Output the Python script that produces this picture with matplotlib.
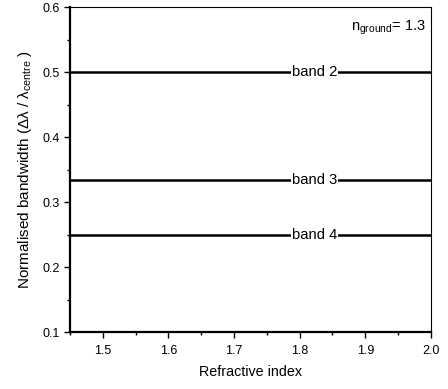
import matplotlib
matplotlib.use("Agg")
import matplotlib.pyplot as plt
from matplotlib.ticker import MultipleLocator

plt.rcParams['font.family'] = ['Liberation Sans', 'DejaVu Sans']
plt.rcParams['mathtext.fontset'] = 'custom'
plt.rcParams['mathtext.rm'] = 'Liberation Sans'
plt.rcParams['mathtext.it'] = 'Liberation Sans'
plt.rcParams['mathtext.sf'] = 'Liberation Sans'

x_range = [1.45, 2.0]
bands = ["band 2", "band 3", "band 4"]
band_values = [0.5, 1/3, 0.25]
label_x = 1.823
n_ground_text = r"n$_{\mathrm{ground}}$= 1.3"

fig = plt.figure(figsize=(4.48, 3.89), dpi=100)
ax = fig.add_axes([0.156, 0.1465, 0.806, 0.8355])

for name, val in zip(bands, band_values):
    ax.plot(x_range, [val, val], color='black', lw=1.8, solid_capstyle='butt')
    ax.text(label_x, val, name, ha='center', va='center', fontsize=10.6,
            bbox=dict(facecolor='white', edgecolor='none', pad=0.6))

ax.text(1.992, 0.568, n_ground_text, ha='right', va='center', fontsize=10.5)

ax.set_xlim(1.45, 2.0)
ax.set_ylim(0.1, 0.6)
ax.xaxis.set_major_locator(MultipleLocator(0.1))
ax.xaxis.set_minor_locator(MultipleLocator(0.05))
ax.yaxis.set_major_locator(MultipleLocator(0.1))
ax.yaxis.set_minor_locator(MultipleLocator(0.05))
ax.tick_params(which='major', direction='out', length=4, width=1, labelsize=9, pad=3)
ax.tick_params(axis='x', which='major', pad=5)
ax.tick_params(which='minor', direction='out', length=2, width=1)
ax.tick_params(top=False, right=False)
ax.spines['left'].set_linewidth(1.6)
ax.spines['bottom'].set_linewidth(1.6)
ax.spines['top'].set_linewidth(0.8)
ax.spines['right'].set_linewidth(0.8)

ax.set_xlabel("Refractive index", fontsize=10.3, labelpad=6)
ax.set_ylabel(r"Normalised bandwidth ($\Delta\lambda$ / $\lambda_{\mathrm{centre}}$ )", fontsize=11, labelpad=6)

fig.savefig("out.png", dpi=100)
